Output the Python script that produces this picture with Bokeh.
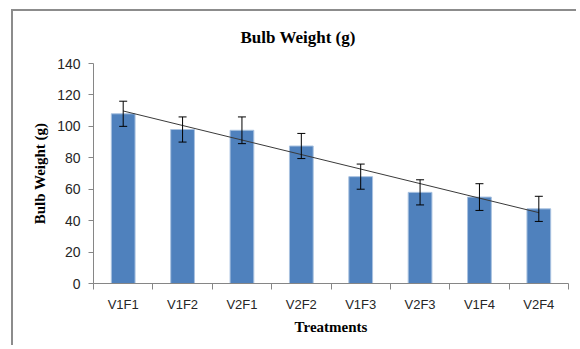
import numpy as np
from bokeh.plotting import figure
from bokeh.models import ColumnDataSource, Whisker, TeeHead, FixedTicker, Range1d
from bokeh.embed import file_html
from bokeh.resources import INLINE

categories = ["V1F1", "V1F2", "V2F1", "V2F2", "V1F3", "V2F3", "V1F4", "V2F4"]
weights = [108, 98, 97.5, 87.5, 68, 58, 55, 47.5]
errors = [8, 8, 8.5, 8, 8, 8, 8.5, 8]
y_ticks = [0, 20, 40, 60, 80, 100, 120, 140]
title_text = "Bulb Weight (g)"

xs = np.arange(1, len(categories) + 1)
w = np.array(weights, dtype=float)
e = np.array(errors, dtype=float)

src = ColumnDataSource(dict(x=xs, top=w, upper=w + e, lower=w - e))

p = figure(width=565, height=336, output_backend="svg", toolbar_location=None,
           x_range=Range1d(0.5, len(categories) + 0.5), y_range=Range1d(0, y_ticks[-1]),
           min_border_left=80, min_border_right=10, min_border_top=51, min_border_bottom=64,
           title=title_text)
p.styles = {"margin-left": "11px", "margin-top": "9px",
            "border-left": "2px solid #8c8c8c", "border-top": "2px solid #8c8c8c"}

p.title.align = "left"
p.title.offset = 147
p.title.vertical_align = "middle"
p.title.standoff = 31
p.title.text_font = "Liberation Serif"
p.title.text_font_style = "bold"
p.title.text_font_size = "17px"
p.title.text_color = "#000000"

p.outline_line_color = None
p.xgrid.grid_line_color = None
p.ygrid.grid_line_color = None

p.vbar(x="x", top="top", width=0.4, source=src, fill_color="#4F81BD",
       line_color="#a9c2e0", line_width=1)

wh = Whisker(source=src, base="x", upper="upper", lower="lower",
             line_color="#000000", line_width=1,
             upper_head=TeeHead(size=8, line_color="#000000", line_width=1),
             lower_head=TeeHead(size=8, line_color="#000000", line_width=1))
wh.level = "overlay"
p.add_layout(wh)

slope, intercept = np.polyfit(xs, w, 1)
p.line(xs, slope * xs + intercept, line_color="#3a3a3a", line_width=1)

ax = p.xaxis[0]
ax.ticker = FixedTicker(ticks=list(xs), minor_ticks=list(np.arange(0.5, len(categories) + 1, 1.0)))
ax.major_label_overrides = {int(i): c for i, c in zip(xs, categories)}
ax.major_tick_line_color = None
ax.minor_tick_line_color = "#868686"
ax.minor_tick_out = 6
ax.minor_tick_in = 0
ax.axis_line_color = "#868686"
ax.major_label_text_font = "Liberation Sans"
ax.major_label_text_font_size = "13px"
ax.major_label_text_color = "#262626"
ax.major_label_standoff = 7
ax.axis_label = "Treatments"
ax.axis_label_text_font = "Liberation Serif"
ax.axis_label_text_font_style = "bold"
ax.axis_label_text_font_size = "15px"
ax.axis_label_text_color = "#000000"
ax.axis_label_standoff = 4

ay = p.yaxis[0]
ay.ticker = FixedTicker(ticks=y_ticks)
ay.minor_tick_line_color = None
ay.major_tick_out = 5
ay.major_tick_in = 0
ay.major_tick_line_color = "#868686"
ay.axis_line_color = "#868686"
ay.major_label_text_font = "Liberation Sans"
ay.major_label_text_font_size = "14px"
ay.major_label_text_color = "#262626"
ay.major_label_standoff = 8
ay.axis_label = "Bulb Weight (g)"
ay.axis_label_text_font = "Liberation Serif"
ay.axis_label_text_font_style = "bold"
ay.axis_label_text_font_size = "15px"
ay.axis_label_text_color = "#000000"
ay.axis_label_standoff = 6

open("out.html", "w").write(file_html(p, INLINE))
